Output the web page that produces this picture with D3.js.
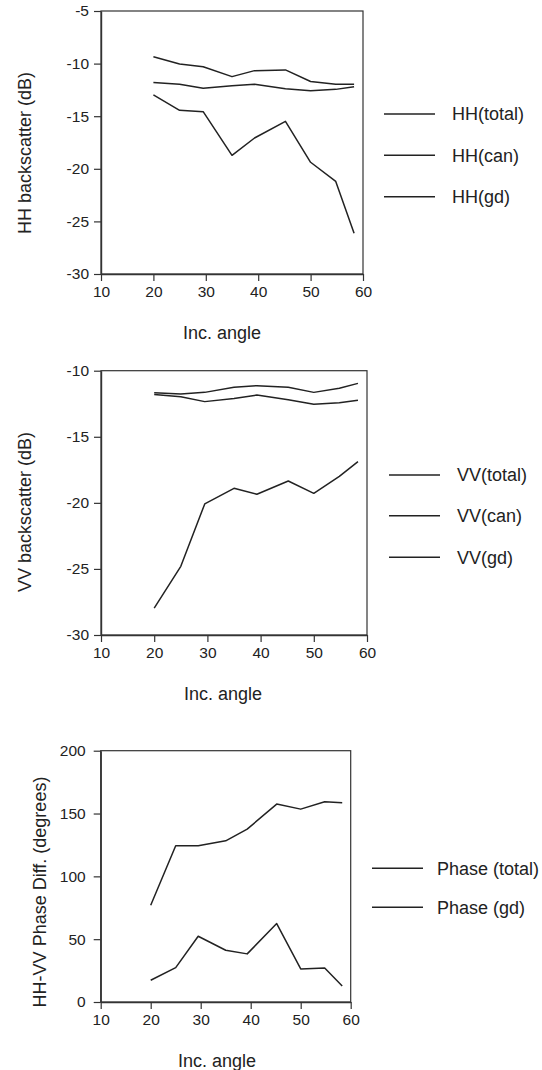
<!DOCTYPE html>
<html>
<head>
<meta charset="utf-8">
<script src="https://cdn.jsdelivr.net/npm/d3@7"></script>
<style>
  body { margin: 0; background: #fff; }
  svg { display: block; }
  text { font-family: "Liberation Sans", Arial, sans-serif; fill: #222; }
</style>
</head>
<body>
<svg id="fig" width="542" height="1070"></svg>
<script>
// incidence angles (deg)
const angles = [20, 25, 29.5, 35, 39.3, 45.2, 50, 54.8, 58.3];

const hhTotal = [-9.34, -10.04, -10.3, -11.24, -10.67, -10.6, -11.7, -11.97, -11.97];
const hhCan = [-11.8, -11.97, -12.35, -12.1, -11.97, -12.38, -12.57, -12.45, -12.2];
const hhGd = [-12.98, -14.44, -14.57, -18.72, -17.07, -15.49, -19.38, -21.2, -26.13];

const vvTotal = [-11.66, -11.76, -11.64, -11.26, -11.13, -11.26, -11.64, -11.33, -10.96];
const vvCan = [-11.8, -11.97, -12.34, -12.1, -11.84, -12.2, -12.54, -12.42, -12.24];
const vvGd = [-27.97, -24.8, -20.08, -18.9, -19.35, -18.35, -19.28, -18.0, -16.88];

const phaseTotal = [77, 124.3, 124.3, 128.3, 137.6, 157.5, 153.5, 159.4, 158.6];
const phaseGd = [17.3, 27.4, 52.3, 41.2, 38.3, 62.4, 26.3, 27.1, 12.8];

const xTicks = [10, 20, 30, 40, 50, 60];

const panels = [
  {
    left: 101, right: 363, top: 11, bottom: 274,
    yDomain: [-30, -5], yTicks: [-30, -25, -20, -15, -10, -5], yPad: 5,
    yTitle: "HH backscatter (dB)", yTitleX: 25, yTitleY: 153, xTitleX: 222,
    series: [hhTotal, hhCan, hhGd],
    names: ["HH(total)", "HH(can)", "HH(gd)"],
    legX: 384, legY: [114, 155.3, 196.7], legTextX: 452
  },
  {
    left: 101, right: 367, top: 370.7, bottom: 635,
    yDomain: [-30, -10], yTicks: [-30, -25, -20, -15, -10], yPad: 5,
    yTitle: "VV backscatter (dB)", yTitleX: 25, yTitleY: 512, xTitleX: 223,
    series: [vvTotal, vvCan, vvGd],
    names: ["VV(total)", "VV(can)", "VV(gd)"],
    legX: 389, legY: [475, 515.7, 557.3], legTextX: 457
  },
  {
    left: 100.7, right: 350.7, top: 750.7, bottom: 1002,
    yDomain: [0, 200], yTicks: [0, 50, 100, 150, 200], yPad: 8,
    yTitle: "HH-VV Phase Diff. (degrees)", yTitleX: 40, yTitleY: 892, xTitleX: 217,
    series: [phaseTotal, phaseGd],
    names: ["Phase (total)", "Phase (gd)"],
    legX: 372, legY: [868.3, 907.3], legTextX: 437
  }
];

const svg = d3.select("#fig");

panels.forEach(function (p) {
  const x = d3.scaleLinear().domain([10, 60]).range([p.left, p.right]);
  const y = d3.scaleLinear().domain(p.yDomain).range([p.bottom, p.top]);
  const g = svg.append("g");

  // frame
  g.append("rect")
    .attr("x", p.left).attr("y", p.top)
    .attr("width", p.right - p.left).attr("height", p.bottom - p.top)
    .attr("fill", "none").attr("stroke", "#333").attr("stroke-width", 1.2);

  const xAxis = g.append("g")
    .attr("transform", "translate(0," + p.bottom + ")")
    .call(d3.axisBottom(x).tickValues(xTicks).tickSize(7).tickSizeOuter(0).tickPadding(5));
  const yAxis = g.append("g")
    .attr("transform", "translate(" + p.left + ",0)")
    .call(d3.axisLeft(y).tickValues(p.yTicks).tickFormat(function (d) { return String(d); })
      .tickSize(7).tickSizeOuter(0).tickPadding(p.yPad));

  [xAxis, yAxis].forEach(function (a) {
    a.select(".domain").attr("stroke", "#333").attr("stroke-width", 1.4);
    a.selectAll(".tick line").attr("stroke", "#333").attr("stroke-width", 1.2);
    a.selectAll(".tick text").attr("font-size", 15.5).attr("fill", "#222")
      .attr("font-family", "'Liberation Sans', Arial, sans-serif");
  });

  g.append("text")
    .attr("x", p.xTitleX).attr("y", p.bottom + 65)
    .attr("text-anchor", "middle").attr("font-size", 18)
    .text("Inc. angle");

  g.append("text")
    .attr("transform", "translate(" + p.yTitleX + "," + p.yTitleY + ") rotate(-90)")
    .attr("text-anchor", "middle").attr("dominant-baseline", "central").attr("font-size", 18)
    .text(p.yTitle);

  const line = d3.line()
    .x(function (d, i) { return x(angles[i]); })
    .y(function (d) { return y(d); });

  g.selectAll("path.series")
    .data(p.series)
    .join("path")
    .attr("class", "series")
    .attr("d", line)
    .attr("fill", "none")
    .attr("stroke", "#222")
    .attr("stroke-width", 1.5)
    .attr("stroke-linejoin", "round");

  // legend
  const leg = g.selectAll("g.leg")
    .data(p.names)
    .join("g")
    .attr("class", "leg")
    .attr("transform", function (d, i) { return "translate(0," + p.legY[i] + ")"; });
  leg.append("line")
    .attr("x1", p.legX).attr("x2", p.legX + 51)
    .attr("stroke", "#222").attr("stroke-width", 1.5);
  leg.append("text")
    .attr("x", p.legTextX).attr("dy", "0.35em")
    .attr("font-size", 18)
    .text(function (d) { return d; });
});
</script>
</body>
</html>
